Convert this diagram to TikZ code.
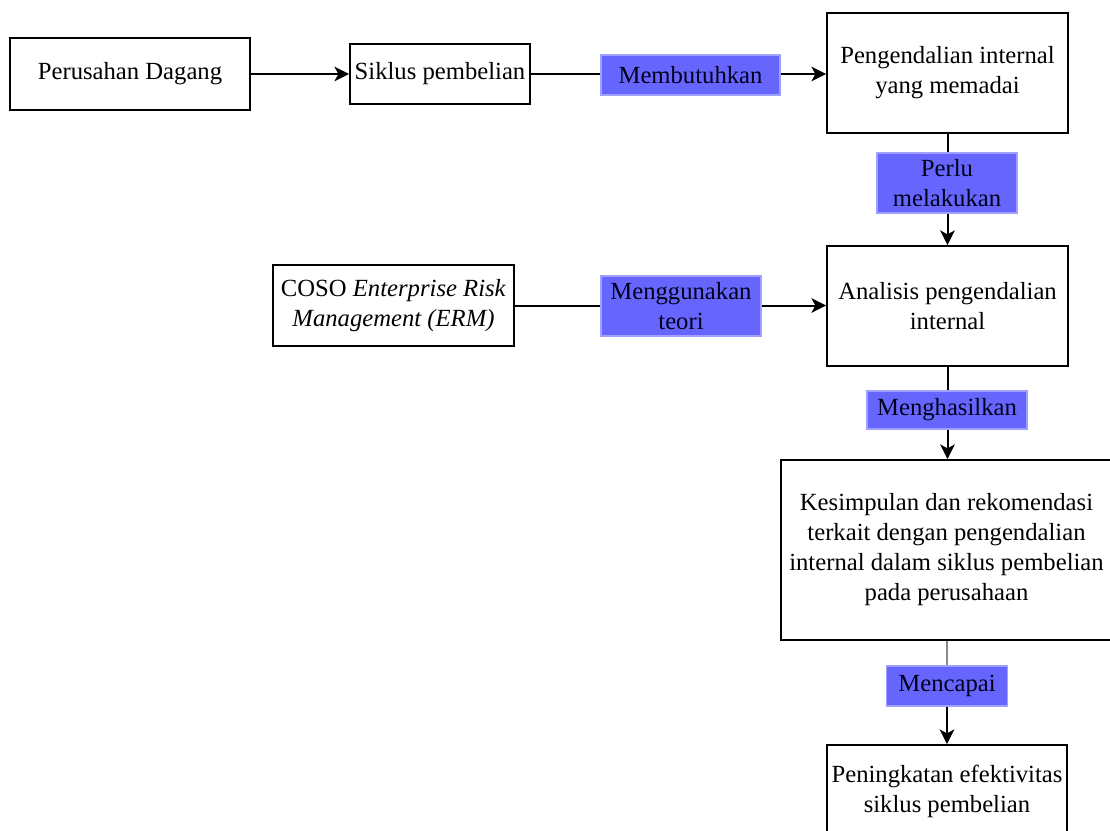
\documentclass[tikz,border=0pt]{standalone}
\usepackage{fontspec}
\setmainfont{Liberation Serif}
\usetikzlibrary{arrows.meta}
\definecolor{lblfill}{RGB}{102,102,255}
\definecolor{lbldraw}{RGB}{160,160,255}
\begin{document}
\begin{tikzpicture}[x=0.75pt,y=-0.75pt,
  box/.style={draw=black, line width=1.4pt, align=center, inner sep=0pt, fill=white,
    font=\fontsize{18.5}{22.5}\selectfont},
  lbl/.style={draw=lbldraw, line width=0.8pt, fill=lblfill, align=center, inner sep=0pt,
    font=\fontsize{18.5}{22.5}\selectfont, text=black!90!blue},
  conn/.style={line width=1.5pt, draw=black},
  arr/.style={conn, -{Stealth[length=11pt,width=11pt,inset=3pt]}}]
\useasboundingbox (0,0) rectangle (1110,831);
% boxes
\node[box, minimum width=180pt, minimum height=54pt] (pd) at (130,74) {Perusahan Dagang};
\node[box, minimum width=135pt, minimum height=45pt] (sp) at (440,74) {Siklus pembelian};
\node[box, minimum width=180.75pt, minimum height=90pt] (pi) at (947.5,73) {\raisebox{-3pt}{}Pengendalian internal\\yang memadai};
\node[box, minimum width=180.75pt, minimum height=90pt] (an) at (947.5,306) {Analisis pengendalian\\internal};
\node[box, minimum width=180.75pt, minimum height=60.75pt] (coso) at (393.5,305.5) {COSO \textit{Enterprise Risk}\\\textit{Management (ERM)}};
\node[box, minimum width=248.25pt, minimum height=135pt] (kes) at (946.5,550) {Kesimpulan dan rekomendasi\\terkait dengan pengendalian\\internal dalam siklus pembelian\\pada perusahaan};
\node[box, minimum width=180pt, minimum height=69pt] (pen) at (947,791) {Peningkatan efektivitas\\siklus pembelian};
% connectors
\draw[arr] (pd.east) -- (sp.west);
\draw[arr] (sp.east) -- (sp.east -| pi.west);
\draw[arr] (pi.south) -- (an.north);
\draw[arr] (coso.east) -- (coso.east -| an.west);
\draw[arr] (an.south) -- (an.south |- kes.north);
\coordinate (kb) at (kes.south -| pen.north);
% labels
\node[lbl, minimum width=134.25pt, minimum height=30pt] (m1) at (690.5,75) {Membutuhkan};
\node[lbl, minimum width=105pt, minimum height=45pt] (m2) at (947,183) {Perlu\\melakukan};
\node[lbl, minimum width=120pt, minimum height=45pt] (m3) at (681,306) {Menggunakan\\teori};
\node[lbl, minimum width=120pt, minimum height=28.5pt] (m4) at (947,410) {Menghasilkan};
\node[lbl, minimum width=90.75pt, minimum height=30pt] (m5) at (947,686) {Mencapai};
\draw[conn, line width=2pt, draw=black!45] (kb) -- (m5.north);
\draw[arr] (m5.south) -- (pen.north);
\end{tikzpicture}
\end{document}
